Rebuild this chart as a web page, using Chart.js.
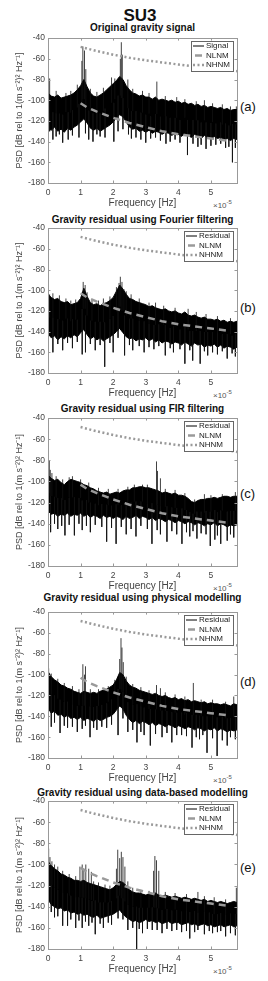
<!DOCTYPE html>
<html>
<head>
<meta charset="utf-8">
<script src="https://cdn.jsdelivr.net/npm/chart.js@4.4.1/dist/chart.umd.min.js"></script>
<style>
body { margin:0; background:#fff; width:268px; height:981px; position:relative; overflow:hidden; font-family:"Liberation Sans", Arial, sans-serif; color:#222; }
.lbl { position:absolute; white-space:nowrap; line-height:1; }
#main { left:0; width:280px; top:7px; text-align:center; font-weight:bold; font-size:17px; color:#111; }
.sub { left:0; width:285px; text-align:center; font-weight:bold; font-size:10px; color:#111; }
.tag { left:240px; font-size:13px; color:#111; }
.mult { left:213px; font-size:8px; color:#555; }
.mult sup { font-size:6px; vertical-align:4px; }
canvas { position:absolute; left:0; }
</style>
</head>
<body>
<div class="lbl" id="main">SU3</div>
<script>
// frequency grid (x 1e-5 Hz)
var freq = [0,0.1,0.2,0.3,0.4,0.5,0.6,0.7,0.8,0.9,1,1.1,1.2,1.3,1.4,1.5,1.6,1.7,1.8,1.9,2,2.1,2.2,2.3,2.4,2.5,2.6,2.7,2.8,2.9,3,3.1,3.2,3.3,3.4,3.5,3.6,3.7,3.8,3.9,4,4.1,4.2,4.3,4.4,4.5,4.6,4.7,4.8,4.9,5,5.1,5.2,5.3,5.4,5.5,5.6,5.7,5.8];

// noise models
var nlnmFreq = [1.0,1.2,1.5,2.0,2.5,3.0,3.5,4.0,4.5,5.0,5.5];
var nlnm = [-103,-107,-111,-117,-122,-126,-130,-133,-135,-137,-139];
var nhnmFreq = [1.0,1.5,2.0,2.5,3.0,3.5,4.0,4.5,5.0,5.5,5.8];
var nhnm = [-48.5,-52.5,-56,-59,-61.5,-63.5,-65.5,-67.5,-69,-70.5,-72];

// (a) original signal: upper / lower edge of the PSD band, spikes [freq, dB]
var topA = [-93,-96,-97,-95,-98,-97,-96,-95,-93,-90,
  -86,-80,-87,-93,-96,-97,-95,-93,-90,-87,
  -84,-81,-77,-80,-86,-90,-93,-94,-96,-95,
  -97,-97,-99,-97,-100,-99,-100,-101,-100,-102,
  -101,-103,-102,-104,-103,-105,-104,-106,-105,-107,
  -106,-107,-108,-107,-109,-108,-110,-109,-109];
var botA = [-127,-129,-126,-130,-128,-131,-127,-129,-126,-124,
  -121,-118,-122,-127,-129,-127,-130,-128,-126,-124,
  -121,-117,-114,-116,-121,-126,-128,-127,-130,-129,
  -131,-129,-132,-130,-131,-133,-131,-132,-134,-132,
  -133,-135,-132,-134,-136,-133,-135,-137,-134,-136,
  -138,-135,-137,-136,-138,-137,-139,-137,-138];
var upA = [[0.05,-79],[0.25,-91],[0.55,-93],[0.7,-91],[0.9,-85],[1.04,-62],[1.07,-48],[1.12,-52],[1.16,-70],[1.3,-89],[1.5,-92],[1.7,-88],[1.95,-78],[2.05,-79],[2.22,-60],[2.25,-44],[2.28,-56],[2.45,-80],[2.6,-89],[2.9,-91],[3.1,-93],[3.34,-82],[3.6,-96],[3.95,-97],[4.2,-99],[4.55,-101],[4.8,-100],[5.05,-103],[5.35,-104],[5.6,-106],[5.78,-106]];
var downA = [[0.05,-130],[0.15,-138],[0.25,-135],[0.35,-133],[0.45,-141],[0.62,-138],[0.75,-134],[0.95,-136],[1.15,-132],[1.25,-138],[1.38,-140],[1.5,-133],[1.6,-135],[1.75,-136],[2.02,-140],[2.15,-130],[2.3,-128],[2.47,-133],[2.56,-137],[2.7,-136],[2.85,-138],[3.0,-141],[3.15,-137],[3.3,-136],[3.45,-139],[3.62,-142],[3.75,-140],[3.9,-138],[4.05,-141],[4.28,-153],[4.45,-142],[4.6,-145],[4.7,-143],[4.85,-147],[5.0,-144],[5.15,-143],[5.3,-142],[5.45,-146],[5.55,-145],[5.66,-160],[5.75,-146]];

// (b) Fourier filtering residual
var topB = [-104,-107,-109,-108,-111,-112,-111,-114,-113,-112,
  -108,-98,-106,-112,-114,-113,-115,-113,-112,-110,
  -107,-101,-95,-99,-104,-108,-109,-111,-112,-113,
  -114,-116,-115,-117,-118,-119,-118,-120,-121,-120,
  -122,-123,-121,-124,-125,-124,-126,-127,-126,-128,
  -128,-129,-128,-130,-129,-131,-130,-131,-130];
var botB = [-142,-146,-144,-148,-145,-147,-144,-146,-143,-145,
  -141,-138,-143,-147,-145,-148,-146,-149,-147,-145,
  -143,-140,-137,-141,-145,-147,-146,-149,-147,-148,
  -146,-149,-147,-150,-148,-151,-149,-150,-152,-150,
  -151,-153,-150,-152,-154,-151,-153,-152,-155,-153,
  -154,-152,-155,-153,-156,-154,-155,-157,-155];
var upB = [[0.05,-104],[0.15,-103],[0.35,-105],[0.55,-108],[0.7,-110],[0.85,-109],[1.08,-92],[1.14,-95],[1.2,-102],[1.35,-109],[1.55,-110],[1.7,-108],[1.9,-106],[2.1,-97],[2.18,-93],[2.22,-87],[2.27,-92],[2.33,-99],[2.4,-101],[2.55,-104],[2.8,-108],[3.1,-112],[3.3,-112],[3.55,-115],[3.9,-117],[4.3,-118],[4.55,-121],[4.85,-123],[5.2,-125],[5.6,-127]];
var downB = [[0.15,-160],[0.3,-152],[0.45,-158],[0.6,-151],[0.75,-156],[0.9,-150],[1.05,-162],[1.15,-160],[1.3,-152],[1.45,-158],[1.6,-153],[1.74,-174],[1.9,-151],[2.0,-160],[2.15,-146],[2.35,-163],[2.5,-153],[2.6,-158],[2.8,-154],[2.95,-160],[3.1,-155],[3.25,-157],[3.4,-154],[3.6,-163],[3.75,-156],[3.85,-160],[4.05,-157],[4.2,-171],[4.35,-158],[4.44,-168],[4.67,-171],[4.8,-159],[4.9,-163],[5.05,-160],[5.2,-162],[5.35,-159],[5.5,-166],[5.65,-161],[5.75,-164]];

// (c) FIR filtering residual
var topC = [-94,-97,-99,-98,-101,-103,-100,-98,-99,-100,
  -101,-103,-104,-106,-107,-109,-110,-111,-110,-112,
  -111,-110,-111,-109,-108,-108,-106,-106,-105,-105,
  -106,-106,-107,-108,-109,-111,-110,-111,-112,-111,
  -113,-113,-114,-116,-119,-120,-118,-117,-117,-116,
  -116,-115,-116,-115,-114,-114,-115,-114,-114];
var botC = [-128,-131,-130,-133,-131,-132,-130,-133,-131,-132,
  -130,-133,-131,-134,-132,-133,-135,-132,-134,-133,
  -135,-133,-134,-136,-133,-135,-134,-132,-135,-133,
  -134,-136,-134,-137,-135,-136,-138,-136,-137,-139,
  -137,-138,-140,-138,-139,-141,-139,-140,-142,-140,
  -141,-139,-142,-140,-141,-143,-141,-142,-141];
var upC = [[0.04,-80],[0.07,-89],[0.12,-92],[0.25,-95],[0.45,-98],[0.65,-96],[0.75,-95],[1.0,-98],[1.25,-101],[1.55,-106],[1.85,-107],[2.15,-107],[2.45,-105],[2.65,-103],[2.9,-103],[3.05,-103],[3.33,-81],[3.36,-90],[3.45,-97],[3.6,-107],[3.9,-108],[4.2,-111],[4.5,-117],[4.8,-112],[5.0,-113],[5.35,-112],[5.75,-110]];
var downC = [[0.08,-148],[0.2,-140],[0.3,-145],[0.42,-142],[0.52,-151],[0.65,-141],[0.81,-151],[0.95,-140],[1.05,-146],[1.18,-142],[1.3,-148],[1.45,-141],[1.65,-143],[1.8,-157],[1.95,-144],[2.09,-159],[2.25,-143],[2.4,-150],[2.55,-145],[2.7,-152],[2.85,-142],[3.05,-145],[3.19,-159],[3.35,-146],[3.45,-150],[3.65,-157],[3.8,-147],[3.95,-150],[4.11,-159],[4.25,-148],[4.35,-152],[4.45,-147],[4.57,-154],[4.7,-149],[4.85,-150],[4.98,-161],[5.12,-155],[5.2,-151],[5.3,-159],[5.5,-156],[5.6,-150],[5.7,-153]];

// (d) physical modelling residual
var topD = [-97,-102,-105,-107,-110,-111,-113,-114,-116,-117,
  -118,-116,-117,-118,-117,-118,-116,-115,-114,-112,
  -110,-105,-98,-100,-106,-110,-112,-113,-115,-116,
  -117,-118,-119,-118,-120,-121,-120,-122,-123,-122,
  -124,-123,-125,-124,-126,-125,-126,-127,-126,-128,
  -127,-128,-128,-129,-128,-129,-130,-128,-129];
var botD = [-132,-137,-135,-139,-138,-141,-139,-142,-141,-143,
  -141,-144,-142,-143,-145,-142,-144,-143,-141,-140,
  -138,-134,-130,-133,-139,-143,-146,-144,-147,-145,
  -146,-148,-146,-149,-147,-148,-150,-148,-149,-151,
  -149,-150,-152,-150,-151,-153,-151,-152,-154,-152,
  -153,-151,-154,-152,-153,-155,-153,-154,-153];
var upD = [[0.02,-94],[0.1,-99],[0.3,-104],[0.5,-108],[0.75,-111],[0.95,-114],[1.07,-90],[1.12,-100],[1.15,-92],[1.3,-114],[1.55,-114],[1.85,-111],[2.05,-105],[2.2,-85],[2.24,-65],[2.27,-74],[2.31,-88],[2.4,-102],[2.6,-109],[2.85,-112],[3.1,-115],[3.33,-110],[3.45,-113],[3.6,-117],[3.9,-119],[4.2,-121],[4.46,-108],[4.7,-124],[5.05,-124],[5.45,-126],[5.7,-121]];
var downD = [[0.1,-150],[0.2,-146],[0.37,-156],[0.5,-149],[0.6,-151],[0.75,-150],[0.9,-155],[1.05,-152],[1.15,-149],[1.29,-160],[1.4,-151],[1.5,-153],[1.65,-150],[1.8,-151],[1.95,-148],[2.15,-158],[2.3,-142],[2.45,-155],[2.6,-153],[2.73,-165],[2.85,-155],[2.95,-158],[3.14,-168],[3.3,-157],[3.5,-160],[3.65,-156],[3.8,-165],[3.95,-158],[4.1,-158],[4.25,-159],[4.42,-170],[4.55,-160],[4.65,-162],[4.75,-158],[4.88,-175],[5.05,-161],[5.19,-178],[5.35,-163],[5.5,-168],[5.6,-160],[5.75,-162]];

// (e) data-based modelling residual
var topE = [-97,-101,-104,-106,-109,-110,-112,-113,-115,-115,
  -116,-115,-117,-118,-119,-120,-121,-122,-123,-124,
  -122,-119,-116,-117,-120,-124,-126,-127,-127,-128,
  -129,-128,-128,-127,-129,-130,-129,-130,-131,-130,
  -131,-132,-131,-132,-133,-132,-133,-134,-133,-135,
  -134,-135,-136,-135,-136,-137,-136,-135,-136];
var botE = [-133,-138,-140,-142,-141,-144,-143,-146,-145,-147,
  -146,-148,-147,-149,-150,-148,-151,-150,-149,-148,
  -147,-145,-143,-147,-150,-152,-154,-153,-155,-154,
  -152,-154,-153,-155,-154,-156,-155,-154,-156,-155,
  -155,-157,-156,-155,-157,-156,-158,-157,-156,-158,
  -157,-159,-158,-157,-159,-158,-157,-159,-158];
var upE = [[0.02,-85],[0.06,-93],[0.12,-97],[0.2,-100],[0.3,-102],[0.45,-106],[0.65,-109],[0.85,-111],[0.98,-102],[1.05,-100],[1.1,-104],[1.16,-100],[1.25,-104],[1.33,-107],[1.4,-116],[1.55,-117],[1.75,-119],[1.9,-120],[2.1,-104],[2.14,-86],[2.2,-94],[2.25,-88],[2.3,-93],[2.36,-102],[2.45,-116],[2.6,-122],[2.85,-124],[3.1,-125],[3.24,-106],[3.28,-92],[3.33,-96],[3.4,-106],[3.6,-126],[3.9,-127],[4.25,-128],[4.6,-126],[4.8,-130],[5.1,-131],[5.45,-133],[5.78,-122]];
var downE = [[0.1,-145],[0.2,-150],[0.3,-149],[0.45,-158],[0.6,-158],[0.7,-152],[0.85,-160],[0.95,-153],[1.05,-160],[1.15,-154],[1.25,-158],[1.35,-155],[1.45,-166],[1.6,-156],[1.7,-160],[1.85,-155],[1.95,-157],[2.15,-151],[2.3,-152],[2.45,-162],[2.6,-160],[2.72,-182],[2.8,-161],[2.9,-165],[3.05,-161],[3.2,-162],[3.35,-162],[3.5,-165],[3.65,-161],[3.8,-163],[3.95,-162],[4.1,-164],[4.25,-163],[4.35,-170],[4.5,-164],[4.6,-162],[4.8,-166],[4.95,-163],[5.05,-165],[5.2,-164],[5.3,-163],[5.45,-168],[5.6,-165],[5.75,-167]];

var titles = ['Original gravity signal', 'Gravity residual using Fourier filtering', 'Gravity residual using FIR filtering', 'Gravity residual using physical modelling', 'Gravity residual using data-based modelling'];
var tags = ['(a)', '(b)', '(c)', '(d)', '(e)'];
var seriesNames = ['Signal', 'Residual', 'Residual', 'Residual', 'Residual'];
var xTicks = [0, 1, 2, 3, 4, 5];

var panels = [
  {top: 38, h: 145, subY: 29, tagY: 107, hi: topA, lo: botA, up: upA, down: downA},
  {top: 228, h: 145, subY: 221, tagY: 308, hi: topB, lo: botB, up: upB, down: downB},
  {top: 418, h: 148, subY: 410, tagY: 494, hi: topC, lo: botC, up: upC, down: downC},
  {top: 612, h: 146, subY: 599, tagY: 682, hi: topD, lo: botD, up: upD, down: downD},
  {top: 801, h: 148, subY: 794, tagY: 868, hi: topE, lo: botE, up: upE, down: downE}
];

var FONT = '"Liberation Sans", Arial, sans-serif';
var GREY = '#9a9a9a';

var framePlugin = {
  id: 'frame',
  afterDraw: function(chart) {
    var ctx = chart.ctx, a = chart.chartArea;
    var xs = chart.scales.x, ys = chart.scales.y;
    ctx.save();
    ctx.strokeStyle = '#999';
    ctx.lineWidth = 1;
    ctx.strokeRect(Math.round(a.left) + 0.5, Math.round(a.top) + 0.5, Math.round(a.right - a.left), Math.round(a.bottom - a.top));
    ctx.beginPath();
    xTicks.forEach(function(t) {
      var px = Math.round(xs.getPixelForValue(t)) + 0.5;
      ctx.moveTo(px, a.bottom); ctx.lineTo(px, a.bottom - 2.5);
      ctx.moveTo(px, a.top); ctx.lineTo(px, a.top + 2.5);
    });
    ys.ticks.forEach(function(t) {
      var py = Math.round(ys.getPixelForValue(t.value)) + 0.5;
      ctx.moveTo(a.left, py); ctx.lineTo(a.left + 2.5, py);
      ctx.moveTo(a.right, py); ctx.lineTo(a.right - 2.5, py);
    });
    ctx.stroke();
    ctx.restore();
  }
};

var legendPlugin = {
  id: 'psdLegend',
  afterDatasetsDraw: function(chart, args, opts) {
    var ctx = chart.ctx, a = chart.chartArea;
    ctx.save();
    ctx.font = '8px ' + FONT;
    var names = [opts.name, 'NLNM', 'NHNM'];
    var tw = Math.max.apply(null, names.map(function(n) { return ctx.measureText(n).width; }));
    var w = Math.round(tw + 18), hgt = 30;
    var x0 = Math.round(a.right - 4 - w), y0 = Math.round(a.top + 3);
    ctx.fillStyle = '#fff';
    ctx.fillRect(x0, y0, w, hgt);
    ctx.strokeStyle = '#666';
    ctx.lineWidth = 1;
    ctx.strokeRect(x0 + 0.5, y0 + 0.5, w, hgt);
    var rows = [y0 + 5, y0 + 14.5, y0 + 24];
    ctx.beginPath(); ctx.strokeStyle = '#000'; ctx.lineWidth = 1;
    ctx.moveTo(x0 + 2, rows[0]); ctx.lineTo(x0 + 13, rows[0]); ctx.stroke();
    ctx.beginPath(); ctx.strokeStyle = GREY; ctx.lineWidth = 2.5; ctx.setLineDash([7, 5]);
    ctx.moveTo(x0 + 4, rows[1]); ctx.lineTo(x0 + 13, rows[1]); ctx.stroke();
    ctx.beginPath(); ctx.setLineDash([2, 2.5]);
    ctx.moveTo(x0 + 2, rows[2]); ctx.lineTo(x0 + 14, rows[2]); ctx.stroke();
    ctx.setLineDash([]);
    ctx.fillStyle = '#222';
    ctx.textBaseline = 'middle';
    names.forEach(function(n, i) { ctx.fillText(n, x0 + 15, rows[i]); });
    ctx.restore();
  }
};

function addLabel(cls, html, top) {
  var d = document.createElement('div');
  d.className = 'lbl ' + cls;
  d.innerHTML = html;
  d.style.top = top + 'px';
  document.body.appendChild(d);
}

panels.forEach(function(p, k) {
  addLabel('sub', titles[k], p.subY - 6);
  addLabel('tag', tags[k], p.tagY - 7);
  addLabel('mult', '×10<sup>-5</sup>', p.top + p.h + 16);

  var cv = document.createElement('canvas');
  cv.width = 268; cv.height = p.h + 34;
  cv.style.top = (p.top - 8) + 'px';
  document.body.appendChild(cv);

  var band = function(arr) { return freq.map(function(f, i) { return {x: f, y: arr[i]}; }); };
  var spikes = [];
  p.up.concat(p.down).forEach(function(s) {
    var i = Math.round(s[0] * 10);
    spikes.push({x: s[0], y: (p.hi[i] + p.lo[i]) / 2}, {x: s[0], y: s[1]}, {x: s[0], y: null});
  });

  new Chart(cv, {
    type: 'line',
    data: {
      datasets: [
        {label: 'NLNM', data: nlnmFreq.map(function(f, i) { return {x: f, y: nlnm[i]}; }), borderColor: GREY, borderWidth: 2.5, borderDash: [7, 5]},
        {label: 'NHNM', data: nhnmFreq.map(function(f, i) { return {x: f, y: nhnm[i]}; }), borderColor: GREY, borderWidth: 2.5, borderDash: [2, 2.5]},
        {label: 'spikes', data: spikes, borderColor: '#111', borderWidth: 0.8, spanGaps: false},
        {label: seriesNames[k], data: band(p.hi), borderColor: '#000', borderWidth: 1, fill: '+1', backgroundColor: '#000'},
        {label: 'low', data: band(p.lo), borderColor: '#000', borderWidth: 1}
      ]
    },
    options: {
      responsive: false,
      animation: false,
      devicePixelRatio: 1,
      layout: {padding: {top: 8, right: 31, bottom: 0, left: 0}},
      elements: {point: {radius: 0}, line: {tension: 0}},
      plugins: {legend: {display: false}, tooltip: {enabled: false}, psdLegend: {name: seriesNames[k]}},
      scales: {
        x: {
          type: 'linear', min: 0, max: 5.8,
          afterFit: function(s) { s.height = 26; },
          border: {display: false},
          grid: {display: false, drawTicks: false},
          ticks: {stepSize: 1, includeBounds: false, padding: 5, maxRotation: 0, autoSkip: false, color: '#444', font: {family: FONT, size: 8.5}},
          title: {display: true, text: 'Frequency [Hz]', color: '#444', font: {family: FONT, size: 10}, padding: {top: 0, bottom: 0}}
        },
        y: {
          min: -180, max: -40,
          afterFit: function(s) { s.width = 48; },
          border: {display: false},
          grid: {display: false, drawTicks: false},
          ticks: {stepSize: 20, padding: 3, color: '#444', font: {family: FONT, size: 8.5}},
          title: {display: true, text: 'PSD [dB rel to 1(m s⁻²)² Hz⁻¹]', color: '#444', font: {family: FONT, size: 9}, padding: {top: 14, bottom: 0}}
        }
      }
    },
    plugins: [framePlugin, legendPlugin]
  });
});
</script>
</body>
</html>
